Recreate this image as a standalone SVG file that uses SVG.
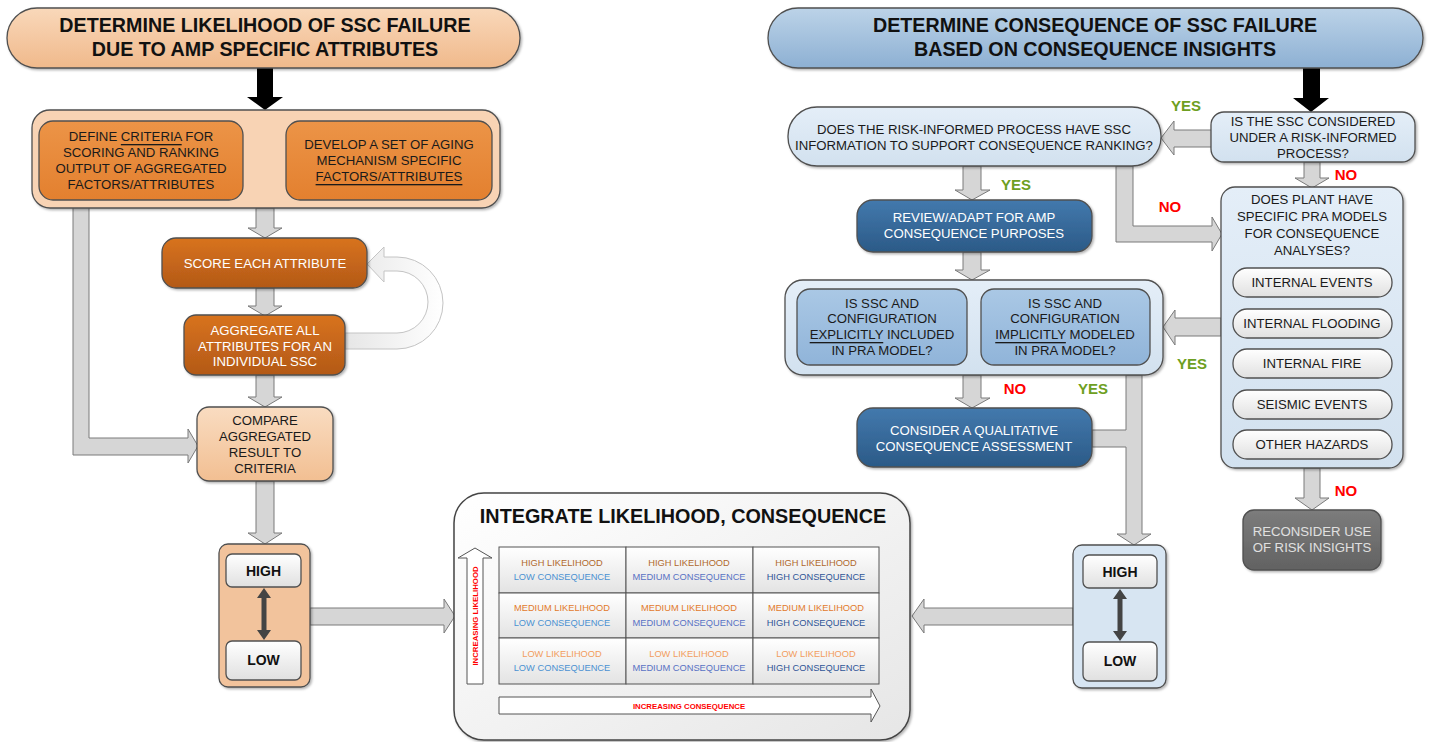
<svg xmlns="http://www.w3.org/2000/svg" width="1433" height="742" viewBox="0 0 1433 742">
<defs>
<linearGradient id="gPeachHead" x1="0" y1="0" x2="0" y2="1"><stop offset="0" stop-color="#f9d8ba"/><stop offset="1" stop-color="#f0b98b"/></linearGradient>
<linearGradient id="gOrange" x1="0" y1="0" x2="0" y2="1"><stop offset="0" stop-color="#ec9447"/><stop offset="1" stop-color="#e3802f"/></linearGradient>
<linearGradient id="gDarkOrange" x1="0" y1="0" x2="0" y2="1"><stop offset="0" stop-color="#d8731f"/><stop offset="1" stop-color="#b35917"/></linearGradient>
<linearGradient id="gCompare" x1="0" y1="0" x2="0" y2="1"><stop offset="0" stop-color="#f9dcc1"/><stop offset="1" stop-color="#f2bf92"/></linearGradient>
<linearGradient id="gWhite" x1="0" y1="0" x2="0" y2="1"><stop offset="0" stop-color="#ffffff"/><stop offset="1" stop-color="#e0e0e0"/></linearGradient>
<linearGradient id="gBlueHead" x1="0" y1="0" x2="0" y2="1"><stop offset="0" stop-color="#bcd3e8"/><stop offset="1" stop-color="#8db0d3"/></linearGradient>
<linearGradient id="gDarkBlue" x1="0" y1="0" x2="0" y2="1"><stop offset="0" stop-color="#4379ad"/><stop offset="1" stop-color="#2b5a87"/></linearGradient>
<linearGradient id="gMedBlue" x1="0" y1="0" x2="0" y2="1"><stop offset="0" stop-color="#aac8e5"/><stop offset="1" stop-color="#90b4d9"/></linearGradient>
<linearGradient id="gLightBlue" x1="0" y1="0" x2="0" y2="1"><stop offset="0" stop-color="#e4eef8"/><stop offset="1" stop-color="#d2e1ef"/></linearGradient>
<linearGradient id="gGrey" x1="0" y1="0" x2="0" y2="1"><stop offset="0" stop-color="#7c7c7c"/><stop offset="1" stop-color="#626262"/></linearGradient>
<linearGradient id="gMatrix" x1="0" y1="0" x2="1" y2="1"><stop offset="0" stop-color="#ffffff"/><stop offset="1" stop-color="#e6e6e6"/></linearGradient>
<linearGradient id="gCell" x1="0" y1="0" x2="0" y2="1"><stop offset="0" stop-color="#ffffff"/><stop offset="1" stop-color="#e3e3e3"/></linearGradient>
<linearGradient id="gLoop" x1="0" y1="0" x2="1" y2="0"><stop offset="0" stop-color="#e6e6e6"/><stop offset="1" stop-color="#ffffff"/></linearGradient>
<filter id="sh" x="-10%" y="-10%" width="130%" height="140%"><feDropShadow dx="1.5" dy="1.5" stdDeviation="1.2" flood-color="#000" flood-opacity="0.3"/></filter>
</defs>
<style>
text{font-family:"Liberation Sans",Arial,sans-serif;text-anchor:middle;dominant-baseline:central}
.box{stroke:#505050;stroke-width:1.3}
.t{font-size:13.2px;fill:#1a1a1a}
.tw{font-size:13.2px;fill:#ffffff}
.hd{font-size:19.7px;font-weight:bold;fill:#111}
.hl{font-size:14px;font-weight:bold;fill:#111}
.arr{fill:#d6d6d6;stroke:#7a7a7a;stroke-width:1}
.blk{fill:#000;stroke:none}
.yes{font-size:15px;font-weight:bold;fill:#6e9f22}
.no{font-size:15px;font-weight:bold;fill:#ff0000}
.c{font-size:9.3px}
.hL{fill:#b0692d}.mL{fill:#e27a2c}.lL{fill:#f29d5d}
.lC{fill:#4b92d2}.mC{fill:#5872c4}.hC{fill:#2f5597}
.inc{font-size:7.8px;font-weight:bold;fill:#ff0000}
.u{text-decoration:underline}
</style>

<g id="connectors">
<polygon class="blk" points="257,68 273,68 273,97 283,97 265,110 247,97 257,97"/>
<polygon class="blk" points="243,164 256,148 256,157 273,157 273,148 286,164 273,180 273,172 256,172 256,180"/>
<polygon class="blk" points="1303,68 1320,68 1320,98 1329,98 1311,112 1293,98 1303,98"/>
<polygon class="arr" points="256,208 274,208 274,228 282,228 265,238 248,228 256,228"/>
<polygon class="arr" points="256,288 274,288 274,306 282,306 265,316 248,306 256,306"/>
<polygon class="arr" points="256,375 274,375 274,397 282,397 265,407 248,397 256,397"/>
<polygon class="arr" points="256,481 274,481 274,533 282,533 265,544 248,533 256,533"/>
<polygon class="arr" points="73,200 89,200 89,438 188,438 188,429 198,446 188,463 188,455 73,455"/>
<polygon class="arr" points="310,608 444,608 444,599 455,616 444,633 444,625 310,625"/>
<path d="M345,333 L397,333 A31,31 0 0 0 397,271 L384,271 L384,282 L367,264 L384,247 L384,257 L397,257 A46,46 0 0 1 397,349 L345,349 Z" fill="url(#gLoop)" stroke="#c4c4c4" stroke-width="1"/>
<polygon class="arr" points="1212,130 1174,130 1174,121 1161,138 1174,155 1174,147 1212,147"/>
<polygon class="arr" points="1304,162 1320,162 1320,178 1329,178 1312,188 1295,178 1304,178"/>
<polygon class="arr" points="963,166 981,166 981,190 990,190 972,200 955,190 963,190"/>
<polygon class="arr" points="1116,166 1133,166 1133,226 1212,226 1212,217 1222,234 1212,251 1212,242 1116,242"/>
<polygon class="arr" points="963,252 981,252 981,270 990,270 972,280 955,270 963,270"/>
<polygon class="arr" points="1221,318 1175,318 1175,310 1163,327 1175,345 1175,336 1221,336"/>
<polygon class="arr" points="963,375 981,375 981,398 990,398 972,408 955,398 963,398"/>
<polygon class="arr" points="1126,375 1142,375 1142,534 1151,534 1134,545 1117,534 1126,534 1126,447 1092,447 1092,430 1126,430"/>
<polygon class="arr" points="1304,468 1320,468 1320,498 1329,498 1312,510 1295,498 1304,498"/>
<polygon class="arr" points="1073,608 924,608 924,599 912,616 924,633 924,625 1073,625"/>
<text class="yes" x="1186" y="105">YES</text>
<text class="no" x="1346" y="174">NO</text>
<text class="yes" x="1016" y="184">YES</text>
<text class="no" x="1170" y="206">NO</text>
<text class="yes" x="1192" y="363">YES</text>
<text class="no" x="1015" y="388">NO</text>
<text class="yes" x="1093" y="388">YES</text>
<text class="no" x="1346" y="490">NO</text>
</g>

<g id="likelihood-header">
<rect class="box" x="7" y="8" width="513" height="60" rx="30" fill="url(#gPeachHead)" filter="url(#sh)"/>
<text class="hd" x="265" y="25">DETERMINE LIKELIHOOD OF SSC FAILURE</text>
<text class="hd" x="265" y="49">DUE TO AMP SPECIFIC ATTRIBUTES</text>
</g>

<g id="define-develop-group">
<rect class="box" x="32" y="110" width="468" height="98" rx="18" fill="#f8d3b4" filter="url(#sh)"/>
</g>
<g id="define-criteria">
<rect class="box" x="39" y="121" width="204" height="79" rx="14" fill="url(#gOrange)"/>
<text class="t" x="141" y="136">DEFINE <tspan class="u">CRITERIA</tspan> FOR</text>
<text class="t" x="141" y="152">SCORING AND RANKING</text>
<text class="t" x="141" y="168">OUTPUT OF AGGREGATED</text>
<text class="t" x="141" y="184">FACTORS/ATTRIBUTES</text>
</g>
<g id="develop-attributes">
<rect class="box" x="286" y="121" width="206" height="79" rx="14" fill="url(#gOrange)"/>
<text class="t" x="389" y="144">DEVELOP A SET OF AGING</text>
<text class="t" x="389" y="160">MECHANISM SPECIFIC</text>
<text class="t" x="389" y="176"><tspan class="u">FACTORS/ATTRIBUTES</tspan></text>
</g>
<g id="score">
<rect class="box" x="162" y="238" width="205" height="50" rx="14" fill="url(#gDarkOrange)" filter="url(#sh)"/>
<text class="tw" x="265" y="263">SCORE EACH ATTRIBUTE</text>
</g>
<g id="aggregate">
<rect class="box" x="184" y="315" width="161" height="60" rx="12" fill="url(#gDarkOrange)" filter="url(#sh)"/>
<text class="tw" x="265" y="330">AGGREGATE ALL</text>
<text class="tw" x="265" y="346">ATTRIBUTES FOR AN</text>
<text class="tw" x="265" y="361">INDIVIDUAL SSC</text>
</g>
<g id="compare">
<rect class="box" x="197" y="407" width="136" height="74" rx="12" fill="url(#gCompare)" filter="url(#sh)"/>
<text class="t" x="265" y="420">COMPARE</text>
<text class="t" x="265" y="436">AGGREGATED</text>
<text class="t" x="265" y="452">RESULT TO</text>
<text class="t" x="265" y="468">CRITERIA</text>
</g>
<g id="likelihood-scale">
<rect class="box" x="219" y="544" width="91" height="143" rx="9" fill="#f2c39c" filter="url(#sh)"/>
<rect class="box" x="226" y="554" width="75" height="33" rx="6" fill="url(#gWhite)"/>
<text class="hl" x="263.5" y="571">HIGH</text>
<rect class="box" x="226" y="641" width="75" height="39" rx="6" fill="url(#gWhite)"/>
<text class="hl" x="263.5" y="660">LOW</text>
<polygon fill="#444" points="264,588 271,598 266.5,598 266.5,630 271,630 264,640 257,630 261.5,630 261.5,598 257,598"/>
</g>

<g id="integrate">
<rect x="454" y="493" width="456" height="247" rx="30" fill="url(#gMatrix)" stroke="#444" stroke-width="1.5" filter="url(#sh)"/>
<text x="683" y="516" font-size="19.8" font-weight="bold" fill="#111">INTEGRATE LIKELIHOOD, CONSEQUENCE</text>
<g stroke="#555" stroke-width="1" fill="url(#gCell)">
<rect x="499" y="547" width="127" height="46"/><rect x="626" y="547" width="127" height="46"/><rect x="753" y="547" width="126" height="46"/>
<rect x="499" y="593" width="127" height="45"/><rect x="626" y="593" width="127" height="45"/><rect x="753" y="593" width="126" height="45"/>
<rect x="499" y="638" width="127" height="46"/><rect x="626" y="638" width="127" height="46"/><rect x="753" y="638" width="126" height="46"/>
</g>
<text class="c hL" x="562" y="563">HIGH LIKELIHOOD</text><text class="c lC" x="562" y="577">LOW CONSEQUENCE</text>
<text class="c hL" x="689" y="563">HIGH LIKELIHOOD</text><text class="c mC" x="689" y="577">MEDIUM CONSEQUENCE</text>
<text class="c hL" x="816" y="563">HIGH LIKELIHOOD</text><text class="c hC" x="816" y="577">HIGH CONSEQUENCE</text>
<text class="c mL" x="562" y="608">MEDIUM LIKELIHOOD</text><text class="c lC" x="562" y="623">LOW CONSEQUENCE</text>
<text class="c mL" x="689" y="608">MEDIUM LIKELIHOOD</text><text class="c mC" x="689" y="623">MEDIUM CONSEQUENCE</text>
<text class="c mL" x="816" y="608">MEDIUM LIKELIHOOD</text><text class="c hC" x="816" y="623">HIGH CONSEQUENCE</text>
<text class="c lL" x="562" y="654">LOW LIKELIHOOD</text><text class="c lC" x="562" y="668">LOW CONSEQUENCE</text>
<text class="c lL" x="689" y="654">LOW LIKELIHOOD</text><text class="c mC" x="689" y="668">MEDIUM CONSEQUENCE</text>
<text class="c lL" x="816" y="654">LOW LIKELIHOOD</text><text class="c hC" x="816" y="668">HIGH CONSEQUENCE</text>
<polygon points="467,684 483,684 483,558 492,558 475,548 458,558 467,558" fill="#fff" stroke="#555" stroke-width="1"/>
<text class="inc" x="475" y="616" transform="rotate(-90 475 616)">INCREASING LIKELIHOOD</text>
<polygon points="499,697 871,697 871,689 880,706 871,722 871,714 499,714" fill="#fff" stroke="#555" stroke-width="1"/>
<text class="inc" x="689" y="706">INCREASING CONSEQUENCE</text>
</g>

<g id="consequence-header">
<rect class="box" x="768" y="8" width="655" height="60" rx="30" fill="url(#gBlueHead)" filter="url(#sh)"/>
<text class="hd" x="1095" y="25">DETERMINE CONSEQUENCE OF SSC FAILURE</text>
<text class="hd" x="1095" y="49">BASED ON CONSEQUENCE INSIGHTS</text>
</g>
<g id="risk-informed-question">
<rect class="box" x="1211" y="112" width="204" height="50" rx="13" fill="url(#gLightBlue)" filter="url(#sh)"/>
<text class="t" x="1313" y="121">IS THE SSC CONSIDERED</text>
<text class="t" x="1313" y="137">UNDER A RISK-INFORMED</text>
<text class="t" x="1313" y="153">PROCESS?</text>
</g>
<g id="ssc-information-question">
<rect class="box" x="788" y="107" width="373" height="59" rx="29" fill="url(#gLightBlue)" filter="url(#sh)"/>
<text class="t" x="974" y="129">DOES THE RISK-INFORMED PROCESS HAVE SSC</text>
<text class="t" x="974" y="145">INFORMATION TO SUPPORT CONSEQUENCE RANKING?</text>
</g>
<g id="review-adapt">
<rect class="box" x="857" y="200" width="235" height="52" rx="16" fill="url(#gDarkBlue)" filter="url(#sh)"/>
<text class="tw" x="974" y="217">REVIEW/ADAPT FOR AMP</text>
<text class="tw" x="974" y="233">CONSEQUENCE PURPOSES</text>
</g>
<g id="pra-model-group">
<rect class="box" x="785" y="280" width="378" height="95" rx="18" fill="url(#gLightBlue)" filter="url(#sh)"/>
</g>
<g id="explicitly-included">
<rect class="box" x="797" y="289" width="170" height="76" rx="13" fill="url(#gMedBlue)"/>
<text class="t" x="882" y="303">IS SSC AND</text>
<text class="t" x="882" y="318">CONFIGURATION</text>
<text class="t" x="882" y="334"><tspan class="u">EXPLICITLY</tspan> INCLUDED</text>
<text class="t" x="882" y="350">IN PRA MODEL?</text>
</g>
<g id="implicitly-modeled">
<rect class="box" x="981" y="289" width="169" height="76" rx="13" fill="url(#gMedBlue)"/>
<text class="t" x="1065" y="303">IS SSC AND</text>
<text class="t" x="1065" y="318">CONFIGURATION</text>
<text class="t" x="1065" y="334"><tspan class="u">IMPLICITLY</tspan> MODELED</text>
<text class="t" x="1065" y="350">IN PRA MODEL?</text>
</g>
<g id="qualitative-assessment">
<rect class="box" x="857" y="408" width="235" height="59" rx="16" fill="url(#gDarkBlue)" filter="url(#sh)"/>
<text class="tw" x="974" y="430">CONSIDER A QUALITATIVE</text>
<text class="tw" x="974" y="446">CONSEQUENCE ASSESSMENT</text>
</g>
<g id="plant-pra-models">
<rect class="box" x="1221" y="187" width="182" height="281" rx="14" fill="url(#gLightBlue)" filter="url(#sh)"/>
<text class="t" x="1312" y="199">DOES PLANT HAVE</text>
<text class="t" x="1312" y="216">SPECIFIC PRA MODELS</text>
<text class="t" x="1312" y="233">FOR CONSEQUENCE</text>
<text class="t" x="1312" y="250">ANALYSES?</text>
</g>
<g id="internal-events">
<rect class="box" x="1233" y="268" width="159" height="29" rx="14" fill="url(#gWhite)"/>
<text class="t" x="1312" y="282.5">INTERNAL EVENTS</text>
</g>
<g id="internal-flooding">
<rect class="box" x="1233" y="309" width="159" height="29" rx="14" fill="url(#gWhite)"/>
<text class="t" x="1312" y="323.5">INTERNAL FLOODING</text>
</g>
<g id="internal-fire">
<rect class="box" x="1233" y="349" width="159" height="29" rx="14" fill="url(#gWhite)"/>
<text class="t" x="1312" y="363.5">INTERNAL FIRE</text>
</g>
<g id="seismic-events">
<rect class="box" x="1233" y="390" width="159" height="29" rx="14" fill="url(#gWhite)"/>
<text class="t" x="1312" y="404.5">SEISMIC EVENTS</text>
</g>
<g id="other-hazards">
<rect class="box" x="1233" y="430" width="159" height="29" rx="14" fill="url(#gWhite)"/>
<text class="t" x="1312" y="444.5">OTHER HAZARDS</text>
</g>
<g id="reconsider">
<rect class="box" x="1243" y="510" width="138" height="60" rx="11" fill="url(#gGrey)" filter="url(#sh)"/>
<text class="t" x="1312" y="531" style="fill:#e0e0e0">RECONSIDER USE</text>
<text class="t" x="1312" y="547" style="fill:#e0e0e0">OF RISK INSIGHTS</text>
</g>
<g id="consequence-scale">
<rect class="box" x="1073" y="545" width="93" height="143" rx="9" fill="#d7e5f2" filter="url(#sh)"/>
<rect class="box" x="1083" y="555" width="74" height="33" rx="6" fill="url(#gWhite)"/>
<text class="hl" x="1120" y="572">HIGH</text>
<rect class="box" x="1083" y="642" width="74" height="39" rx="6" fill="url(#gWhite)"/>
<text class="hl" x="1120" y="661">LOW</text>
<polygon fill="#444" points="1120,589 1127,599 1122.5,599 1122.5,631 1127,631 1120,641 1113,631 1117.5,631 1117.5,599 1113,599"/>
</g>
</svg>
